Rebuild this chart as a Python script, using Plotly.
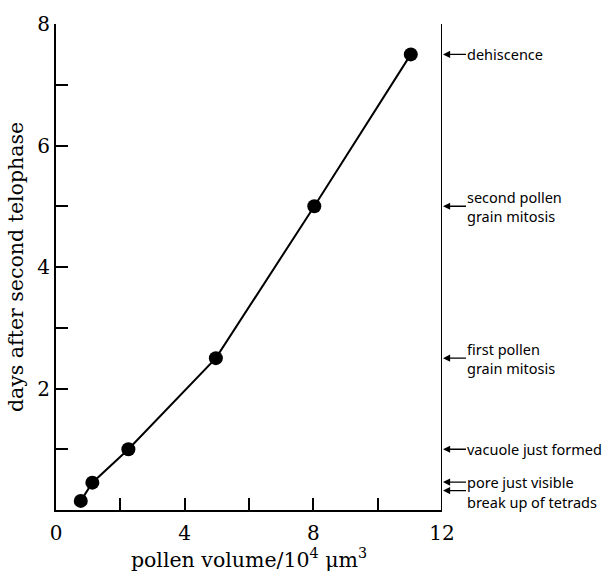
import plotly.graph_objects as go

# data
volume = [0.77, 1.13, 2.25, 4.97, 8.03, 11.03]   # pollen volume / 10^4 um^3
days = [0.15, 0.45, 1.0, 2.5, 5.0, 7.5]          # days after second telophase

event_labels = ["dehiscence", "second pollen<br>grain mitosis", "first pollen<br>grain mitosis",
                "vacuole just formed", "pore just visible", "break up of tetrads"]
event_days = [7.5, 5.0, 2.5, 1.0, 0.46, 0.32]
event_yanchor = ["middle", "middle", "middle", "middle", "middle", "top"]

x_tickvals = [0, 4, 8, 12]
x_minorvals = [2, 6, 10]
y_tickvals = [2, 4, 6, 8]
y_minorvals = [1, 3, 5, 7]

serif = "DejaVu Serif"
sans = "Noto Sans"

fig = go.Figure()
fig.add_trace(go.Scatter(
    x=volume, y=days, mode="lines+markers",
    line=dict(color="black", width=2),
    marker=dict(color="black", size=14),
    showlegend=False, cliponaxis=False,
))

# right-hand axis line at x = 12
fig.add_shape(type="line", x0=12, x1=12, y0=0, y1=8, xref="x", yref="y",
              line=dict(color="black", width=2))

for lab, d, ya in zip(event_labels, event_days, event_yanchor):
    fig.add_annotation(x=12, y=d, xref="x", yref="y", text=lab, showarrow=True,
                       ax=24, ay=0, axref="pixel", ayref="pixel",
                       xanchor="left", yanchor=ya, align="left",
                       borderpad=0,
                       arrowhead=2, arrowsize=1.1, arrowwidth=1.3, arrowcolor="black",
                       standoff=1,
                       font=dict(family=sans, size=14.5, color="black"))

tick_common = dict(ticks="inside", ticklen=12, tickwidth=1.5, tickcolor="black",
                   showline=True, linecolor="black", linewidth=2,
                   showgrid=False, zeroline=False,
                   tickfont=dict(family=serif, size=20, color="black"))

fig.update_xaxes(range=[0, 12], tickvals=x_tickvals, ticklabelstandoff=4,
                 minor=dict(tickvals=x_minorvals, ticks="inside", ticklen=12,
                            tickwidth=1.5, tickcolor="black", showgrid=False),
                 title=dict(text="pollen volume/10<sup>4</sup> μm<sup>3</sup>",
                            font=dict(family=serif, size=20.5, color="black"), standoff=8),
                 **tick_common)
fig.update_yaxes(range=[0, 8], tickvals=y_tickvals,
                 minor=dict(tickvals=y_minorvals, ticks="inside", ticklen=12,
                            tickwidth=1.5, tickcolor="black", showgrid=False),
                 title=dict(text="days after second telophase",
                            font=dict(family=serif, size=20.5, color="black"), standoff=8),
                 **tick_common)

fig.update_layout(width=610, height=579,
                  margin=dict(l=56, r=168, t=20, b=59),
                  plot_bgcolor="white", paper_bgcolor="white")

fig.write_html("out.html")
